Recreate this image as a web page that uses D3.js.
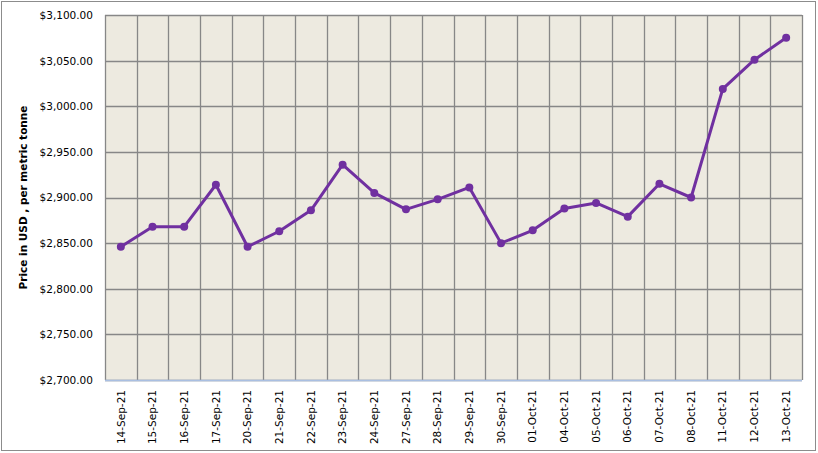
<!DOCTYPE html>
<html><head><meta charset="utf-8">
<script src="https://cdn.jsdelivr.net/npm/d3@7"></script>
<style>body{margin:0;background:#fff;}svg{display:block;}</style>
</head><body>
<script>
const categories = ["14-Sep-21","15-Sep-21","16-Sep-21","17-Sep-21","20-Sep-21","21-Sep-21","22-Sep-21","23-Sep-21","24-Sep-21","27-Sep-21","28-Sep-21","29-Sep-21","30-Sep-21","01-Oct-21","04-Oct-21","05-Oct-21","06-Oct-21","07-Oct-21","08-Oct-21","11-Oct-21","12-Oct-21","13-Oct-21"];
const prices = [2846,2868,2868,2914,2846,2863,2886,2936,2905,2887,2898,2911,2850,2864,2888,2894,2879,2915,2900,3019,3051,3075];
const yTicks = [2700,2750,2800,2850,2900,2950,3000,3050,3100];
const yTitle = "Price in USD , per metric tonne";

const W = 818, H = 453;
const m = {left:105, right:16, top:15, bottom:73};
const svg = d3.select("body").append("svg").attr("width",W).attr("height",H);
svg.append("rect").attr("x",1.5).attr("y",1.5).attr("width",W-4).attr("height",H-4)
  .attr("fill","#fff").attr("stroke","#8c8c8c").attr("stroke-width",1);

const x = d3.scaleBand().domain(categories).range([m.left, W-m.right]).padding(0);
const y = d3.scaleLinear().domain([2700,3100]).range([H-m.bottom, m.top]);

const font = "Tahoma, 'DejaVu Sans', sans-serif";
svg.append("rect").attr("x",m.left).attr("y",m.top).attr("width",W-m.right-m.left).attr("height",H-m.bottom-m.top).attr("fill","#EDEAE0");

// horizontal grid
svg.append("g").selectAll("line").data(yTicks).join("line")
  .attr("x1",m.left).attr("x2",W-m.right).attr("y1",d=>Math.round(y(d))+0.5).attr("y2",d=>Math.round(y(d))+0.5)
  .attr("stroke","#878787").attr("stroke-width",1.3);
// vertical grid at band boundaries
const bounds = categories.map(c=>x(c)).concat([W-m.right]);
svg.append("g").selectAll("line").data(bounds).join("line")
  .attr("x1",d=>Math.round(d)+0.5).attr("x2",d=>Math.round(d)+0.5).attr("y1",m.top).attr("y2",H-m.bottom)
  .attr("stroke","#878787").attr("stroke-width",1.3);

// x axis line
svg.append("line").attr("x1",m.left).attr("x2",W-m.right).attr("y1",H-m.bottom+0.5).attr("y2",H-m.bottom+0.5)
  .attr("stroke","#A9BFE2").attr("stroke-width",1.3);

// y axis
const yAxis = d3.axisLeft(y).tickValues(yTicks).tickSize(0).tickPadding(12).tickFormat(d=>"$"+d3.format(",.2f")(d));
const ga = svg.append("g").attr("transform",`translate(${m.left},0)`).call(yAxis);
ga.select(".domain").remove();
ga.selectAll("text").attr("font-family",font).attr("font-size",10.5).attr("fill","#000");

// x axis
const xAxis = d3.axisBottom(x).tickSize(0).tickPadding(0);
const gx = svg.append("g").attr("transform",`translate(0,${H-m.bottom})`).call(xAxis);
gx.select(".domain").remove();
gx.selectAll("text").attr("font-family",font).attr("font-size",10.5).attr("fill","#000")
  .attr("transform","rotate(-90)").attr("text-anchor","end").attr("dy","0.35em").attr("x",-10).attr("y",0);

// y title
svg.append("text").attr("transform",`translate(27,${(m.top+H-m.bottom)/2}) rotate(-90)`)
  .attr("text-anchor","middle").attr("font-family",font).attr("font-size",10.5).attr("font-weight","bold").text(yTitle);

// line
const line = d3.line().x((d,i)=>x(categories[i])+x.bandwidth()/2).y(d=>y(d));
svg.append("path").datum(prices).attr("d",line).attr("fill","none").attr("stroke","#7030A0").attr("stroke-width",3).attr("stroke-linejoin","round");
svg.append("g").selectAll("circle").data(prices).join("circle")
  .attr("cx",(d,i)=>x(categories[i])+x.bandwidth()/2).attr("cy",d=>y(d)).attr("r",4).attr("fill","#7030A0");
</script>
</body></html>
